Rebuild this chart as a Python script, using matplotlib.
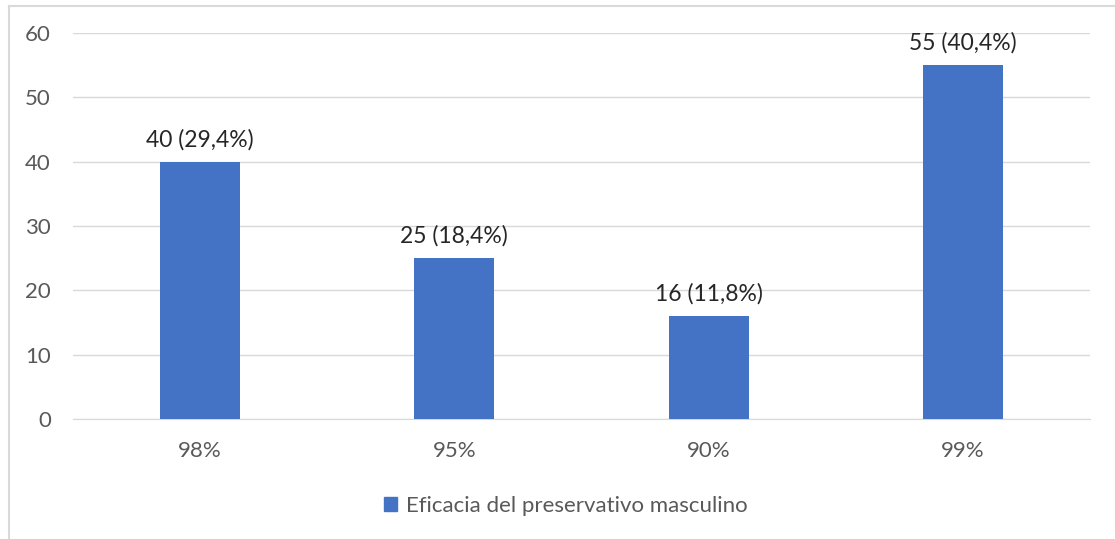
import matplotlib
matplotlib.use("Agg")
from matplotlib import pyplot as plt
from matplotlib.lines import Line2D
from matplotlib.patches import Patch

categorias = ["98%", "95%", "90%", "99%"]
valores = [40, 25, 16, 55]
etiquetas = ["40 (29,4%)", "25 (18,4%)", "16 (11,8%)", "55 (40,4%)"]
serie = "Eficacia del preservativo masculino"

plt.rcParams['font.family'] = ['Lato', 'DejaVu Sans']

fig = plt.figure(figsize=(11.15, 5.39), dpi=100)
ax = fig.add_axes([73/1115, 1 - 419/539, (1090-73)/1115, (419-33)/539])

x = range(len(categorias))
barras = ax.bar(x, valores, width=0.314, color="#4472C4", zorder=3)
for b, txt in zip(barras, etiquetas):
    ax.annotate(txt, (b.get_x() + b.get_width()/2, b.get_height()),
                xytext=(0, 8), textcoords="offset points",
                ha="center", va="bottom", fontsize=16.5, color="#262626")

ax.set_xlim(-0.5, len(categorias) - 0.5)
ax.set_ylim(0, 60)
ax.set_yticks(range(0, 61, 10))
ax.set_xticks(list(x))
ax.set_xticklabels(categorias)
ax.yaxis.grid(True, color="#d9d9d9", linewidth=1, zorder=0)
ax.tick_params(axis="both", length=0, labelsize=16, labelcolor="#595959")
ax.tick_params(axis="x", pad=15.5)
ax.tick_params(axis="y", pad=16)
for s in ["top", "right", "left"]:
    ax.spines[s].set_visible(False)
ax.spines["bottom"].set_color("#d9d9d9")

fig.legend(handles=[Patch(color="#4472C4", label=serie)], loc="center",
           bbox_to_anchor=(566/1115, 1 - 506/539), frameon=False,
           fontsize=16, labelcolor="#595959", handlelength=0.6,
           handleheight=0.6, handletextpad=0.4)

# borde del grafico
fig.add_artist(Line2D([9/1115, 1], [1 - 6/539, 1 - 6/539], color="#d9d9d9", lw=1.5))
fig.add_artist(Line2D([9/1115, 9/1115], [0, 1 - 6/539], color="#d9d9d9", lw=1.5))

fig.savefig("out.png", dpi=100)
